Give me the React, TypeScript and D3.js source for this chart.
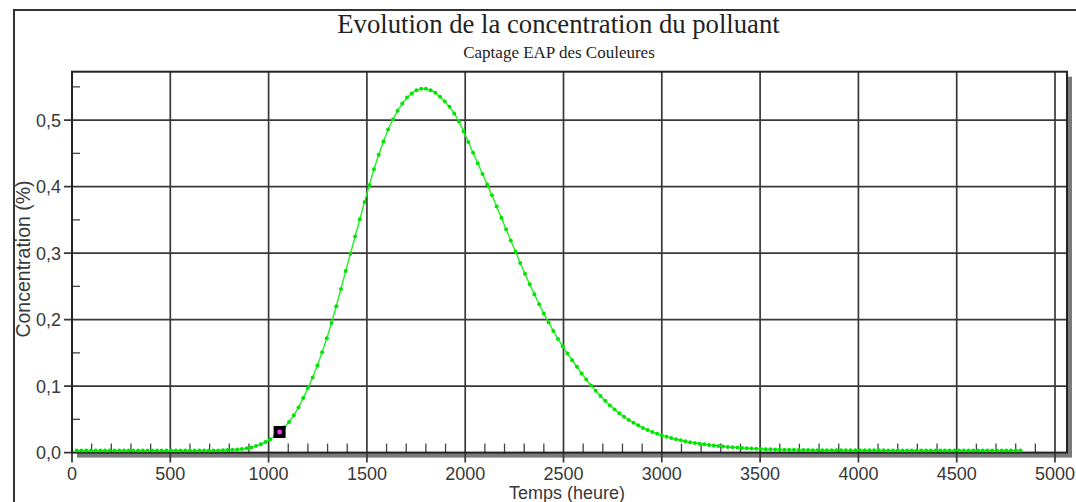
import React from 'react';
import * as d3 from 'd3';

const TITLE = 'Evolution de la concentration du polluant';
const SUBTITLE = 'Captage EAP des Couleures';
const X_LABEL = 'Temps (heure)';
const Y_LABEL = 'Concentration (%)';

// one sample every 24 hours, first sample at 24 h
const START_HOUR = 24;
const STEP_HOURS = 24;

const concentration = [
  0.003, 0.003, 0.003, 0.003, 0.003, 0.003, 0.003, 0.003, 0.003, 0.003,
  0.003, 0.003, 0.003, 0.003, 0.003, 0.003, 0.003, 0.003, 0.003, 0.003,
  0.003, 0.003, 0.003, 0.003, 0.003, 0.003, 0.003, 0.003, 0.003, 0.0031,
  0.0033, 0.0035, 0.0038, 0.0042, 0.0047, 0.0054, 0.0064, 0.0078, 0.0098, 0.0125,
  0.016, 0.020, 0.025, 0.031, 0.038, 0.046, 0.056, 0.068, 0.082, 0.097,
  0.113, 0.131, 0.151, 0.172, 0.195, 0.220, 0.246, 0.273, 0.299, 0.325,
  0.351, 0.377, 0.402, 0.426, 0.448, 0.468, 0.486, 0.501, 0.514, 0.525,
  0.534, 0.540, 0.545, 0.547, 0.547, 0.545, 0.541, 0.535, 0.528, 0.520,
  0.510, 0.498, 0.483, 0.467, 0.451, 0.435, 0.419, 0.403, 0.387, 0.370,
  0.353, 0.336, 0.319, 0.302, 0.285, 0.269, 0.253, 0.238, 0.223, 0.209,
  0.196, 0.183, 0.171, 0.160, 0.149, 0.139, 0.129, 0.119, 0.110, 0.101,
  0.093, 0.085, 0.078, 0.071, 0.065, 0.059, 0.054, 0.049, 0.045, 0.041,
  0.037, 0.034, 0.031, 0.0285, 0.026, 0.024, 0.022, 0.020, 0.0185, 0.017,
  0.0157, 0.0145, 0.0134, 0.0124, 0.0115, 0.0107, 0.0099, 0.0092, 0.0086, 0.0080,
  0.0075, 0.0070, 0.0066, 0.0062, 0.0058, 0.0055, 0.0052, 0.0050, 0.0048, 0.0046,
  0.0044, 0.0043, 0.0041, 0.0040, 0.0039, 0.0038, 0.0037, 0.0036, 0.0035, 0.0035,
  0.0034, 0.0034, 0.0034, 0.0034, 0.0034, 0.0034, 0.0034, 0.0034, 0.0034, 0.0034,
  0.0034, 0.0034, 0.0033, 0.0033, 0.0033, 0.0033, 0.0033, 0.0033, 0.0033, 0.0033,
  0.0033, 0.0033, 0.0033, 0.0033, 0.0033, 0.0032, 0.0032, 0.0032, 0.0032, 0.0032,
  0.0032, 0.0032, 0.0032, 0.0032, 0.0032, 0.0031, 0.0031, 0.0031, 0.0031, 0.0031,
  0.0031,
];

const MARKER_HOUR = 1056;

const xMajorTicks = [0, 500, 1000, 1500, 2000, 2500, 3000, 3500, 4000, 4500, 5000];
const xTickLabels = ['0', '500', '1000', '1500', '2000', '2500', '3000', '3500', '4000', '4500', '5000'];
const yMajorTicks = [0, 0.1, 0.2, 0.3, 0.4, 0.5];
const yTickLabels = ['0,0', '0,1', '0,2', '0,3', '0,4', '0,5'];
const X_MINOR_STEP = 100;
const Y_MINOR_STEP = 0.05;
const X_MAX = 5061;
const Y_MAX = 0.5728;

export default function App() {
  const W = 1076;
  const H = 502;
  const left = 72, right = 1067, top = 71.7, bottom = 452.6;

  const x = d3.scaleLinear().domain([0, X_MAX]).range([left, right]);
  const y = d3.scaleLinear().domain([0, Y_MAX]).range([bottom, top]);

  const pts = concentration.map((v, i) => ({ t: START_HOUR + i * STEP_HOURS, v }));
  const line = d3.line<{ t: number; v: number }>().x(d => x(d.t)).y(d => y(d.v));

  const xMinor = d3.range(X_MINOR_STEP, X_MAX, X_MINOR_STEP).filter(t => t % 500 !== 0);
  const yMinor = d3.range(Y_MINOR_STEP, Y_MAX, 0.1);

  const markerPt = pts.find(p => p.t === MARKER_HOUR)!;

  const sans = 'Liberation Sans, Arial, sans-serif';
  const serif = 'Liberation Serif, Times New Roman, serif';
  const labelColor = '#383838';

  return (
    <svg width={W} height={H} style={{ position: 'absolute', left: 0, top: 0, background: '#fff' }}>
      <rect x={0} y={0} width={W} height={H} fill="#fff" />
      {/* outer frame */}
      <rect x={14} y={10} width={1200} height={700} fill="none" stroke="#333" strokeWidth={2} />

      <text x={558.5} y={33} textAnchor="middle" fontFamily={serif} fontSize={26.7} fill="#222">{TITLE}</text>
      <text x={559} y={58} textAnchor="middle" fontFamily={serif} fontSize={17} fill="#222">{SUBTITLE}</text>

      {/* plot shadow and frame */}
      <rect x={left + 5} y={top + 5} width={right - left} height={bottom - top} fill="#7a7a7a" />
      <rect x={left} y={top} width={right - left} height={bottom - top} fill="#fff" />

      {/* grid */}
      {xMajorTicks.filter(t => t > 0).map(t => (
        <line key={'gx' + t} x1={x(t)} x2={x(t)} y1={top} y2={bottom + 10} stroke="#383838" strokeWidth={1.7} />
      ))}
      {yMajorTicks.filter(t => t > 0).map(t => (
        <line key={'gy' + t} x1={left - 8} x2={right} y1={y(t)} y2={y(t)} stroke="#383838" strokeWidth={1.7} />
      ))}

      {/* minor ticks */}
      {xMinor.map(t => (
        <line key={'mx' + t} x1={x(t)} x2={x(t)} y1={bottom} y2={bottom - 9} stroke="#444" strokeWidth={1.3} />
      ))}
      {yMinor.map(t => (
        <line key={'my' + t} x1={left} x2={left + 8} y1={y(t)} y2={y(t)} stroke="#444" strokeWidth={1.3} />
      ))}

      {/* major ticks at axes */}
      <line x1={x(0)} x2={x(0)} y1={bottom} y2={bottom + 10} stroke="#333" strokeWidth={1.7} />
      <line x1={left - 8} x2={left} y1={y(0)} y2={y(0)} stroke="#333" strokeWidth={1.7} />

      <rect x={left} y={top} width={right - left} height={bottom - top} fill="none" stroke="#222" strokeWidth={2} />

      {/* series */}
      <path d={line(pts) || ''} fill="none" stroke="#22f022" strokeWidth={1.4} />
      {pts.map(p => (
        <circle key={'p' + p.t} cx={x(p.t)} cy={y(p.v)} r={2} fill="#00e400" />
      ))}

      {/* selected point marker */}
      <rect x={x(markerPt.t) - 6} y={y(markerPt.v) - 6} width={12} height={12} fill="#000" />
      <circle cx={x(markerPt.t)} cy={y(markerPt.v)} r={2.4} fill="#ff33ff" />

      {/* tick labels */}
      {yMajorTicks.map((t, i) => (
        <text key={'yl' + t} x={61} y={y(t) + 6.5} textAnchor="end" fontFamily={sans} fontSize={18} fill={labelColor}>{yTickLabels[i]}</text>
      ))}
      {xMajorTicks.map((t, i) => (
        <text key={'xl' + t} x={x(t)} y={480} textAnchor="middle" fontFamily={sans} fontSize={18} fill={labelColor}>{xTickLabels[i]}</text>
      ))}

      <text x={567} y={499} textAnchor="middle" fontFamily={sans} fontSize={18} fill={labelColor}>{X_LABEL}</text>
      <text transform={`translate(30,259) rotate(-90)`} textAnchor="middle" fontFamily={sans} fontSize={19.5} fill={labelColor}>{Y_LABEL}</text>
    </svg>
  );
}
